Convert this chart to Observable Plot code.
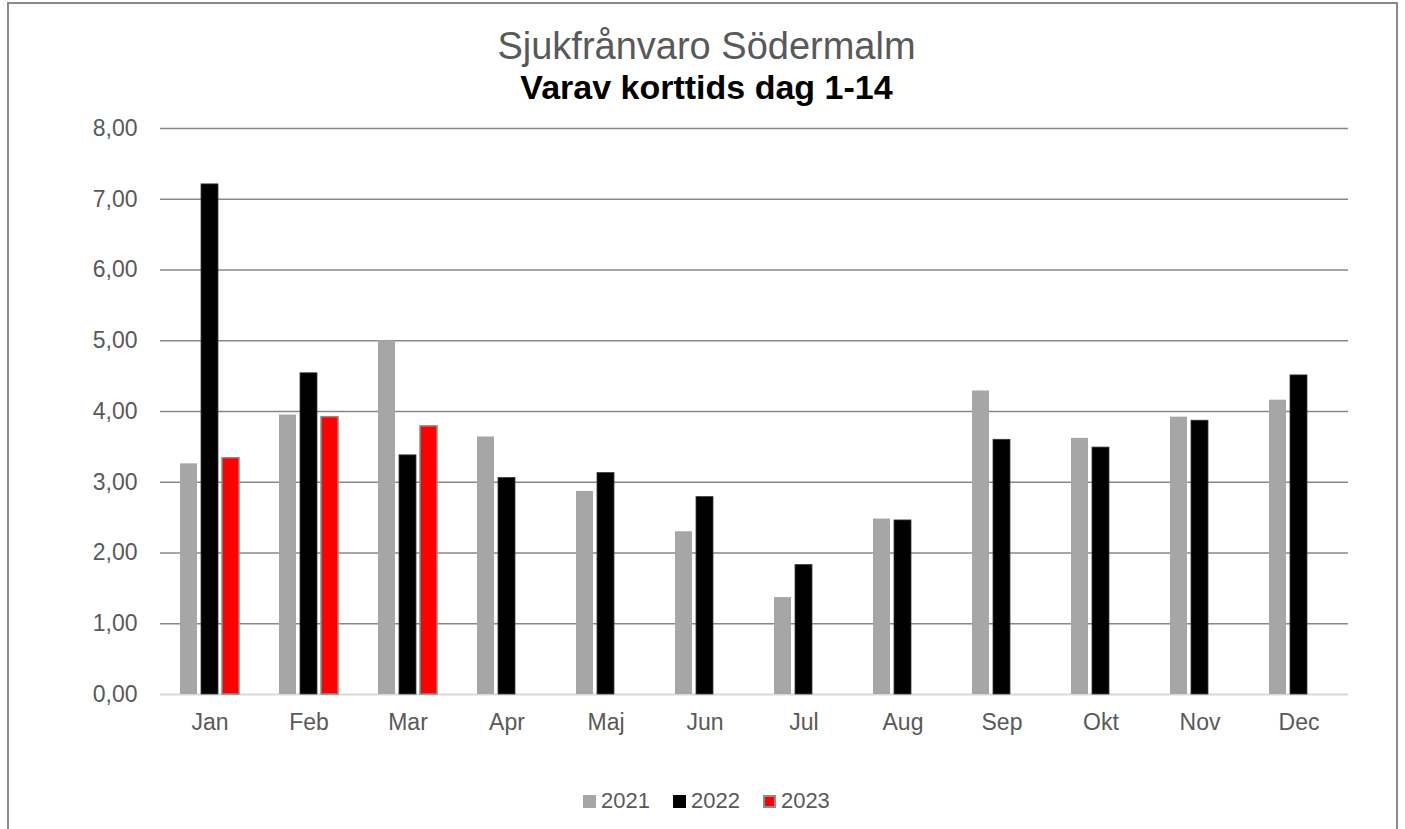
<!DOCTYPE html>
<html>
<head>
<meta charset="utf-8">
<script src="https://cdn.jsdelivr.net/npm/d3@7"></script>
<script src="https://cdn.jsdelivr.net/npm/@observablehq/plot@0.6"></script>
<style>
  html, body { margin: 0; padding: 0; background: #fff; overflow: hidden; }
  #wrap { position: relative; width: 1405px; height: 829px; font-family: "Liberation Sans", Arial, sans-serif; }
  #frame { position: absolute; left: 7px; top: 2px; width: 1391px; height: 900px; border: 2px solid #8a8a8a; box-sizing: border-box; }
  #chart { position: absolute; left: 0; top: 0; }
  .title { position: absolute; left: 8px; width: 1397px; text-align: center; white-space: nowrap; }
  #t1 { top: 23px; font-size: 38px; color: #595959; line-height: 46px; }
  #t2 { top: 67px; font-size: 34px; font-weight: bold; color: #000; line-height: 40px; }
  #legend { position: absolute; top: 789px; left: 583px; display: flex; gap: 23px; font-size: 22px; color: #595959; white-space: nowrap; line-height: 24px; }
  .item { display: flex; align-items: center; }
  .sw { display: inline-block; width: 13px; height: 13px; margin-right: 5px; box-sizing: border-box; }
</style>
</head>
<body>
<div id="wrap">
  <div id="chart"></div>
  <div id="frame"></div>
  <div class="title" id="t1">Sjukfrånvaro Södermalm</div>
  <div class="title" id="t2">Varav korttids dag 1-14</div>
  <div id="legend"></div>
</div>
<script>
const months = ["Jan","Feb","Mar","Apr","Maj","Jun","Jul","Aug","Sep","Okt","Nov","Dec"];
const years = ["2021","2022","2023"];
const v2021 = [3.26,3.95,5.00,3.64,2.87,2.30,1.37,2.48,4.29,3.62,3.92,4.16];
const v2022 = [7.21,4.54,3.38,3.06,3.13,2.79,1.83,2.46,3.60,3.49,3.87,4.51];
const v2023 = [3.34,3.92,3.79];
const yTicks = [0,1,2,3,4,5,6,7,8];
const colors = {"2021": "#a6a6a6", "2022": "#000000", "2023": "#ff0000"};
const strokes = {"2021": "none", "2022": "#3a3a3a", "2023": "#8c8c8c"};

const data = [];
const series = {"2021": v2021, "2022": v2022, "2023": v2023};
for (const y of years) {
  series[y].forEach((v, i) => {
    if (v != null) data.push({month: months[i], year: y, value: v});
  });
}

const fmt = d => d.toFixed(2).replace(".", ",");

const chart = Plot.plot({
  width: 1405,
  height: 829,
  marginTop: 128,
  marginBottom: 135,
  marginLeft: 154,
  marginRight: 52,
  style: {fontFamily: '"Liberation Sans", Arial, sans-serif', fontSize: "23px", color: "#595959", background: "transparent"},
  fx: {domain: months, padding: 0, label: null},
  x: {domain: years, paddingInner: 0.21, paddingOuter: 0.9, axis: null},
  y: {domain: [0, 8], label: null},
  marks: [
    Plot.ruleY(yTicks.filter(d => d > 0), {stroke: "#888888", strokeWidth: 1.6}),
    Plot.ruleY([0], {stroke: "#d9d9d9", strokeWidth: 2}),
    Plot.barY(data, {
      fx: "month", x: "year", y: "value",
      fill: d => colors[d.year],
      stroke: d => strokes[d.year],
      strokeWidth: d => d.year === "2023" ? 1.5 : 0.8,
      inset: 0
    }),
    Plot.axisY({ticks: yTicks, tickFormat: fmt, tickSize: 0, tickPadding: 23, label: null, fontSize: 23}),
    Plot.axisFx({anchor: "bottom", tickSize: 0, tickPadding: 19, label: null, fontSize: 23})
  ]
});
document.getElementById("chart").appendChild(chart);

const legend = document.getElementById("legend");
for (const y of years) {
  const item = document.createElement("span");
  item.className = "item";
  const sw = document.createElement("span");
  sw.className = "sw";
  sw.style.background = colors[y];
  if (y === "2023") sw.style.border = "2px solid #8c8c8c";
  item.appendChild(sw);
  item.appendChild(document.createTextNode(y));
  legend.appendChild(item);
}
</script>
</body>
</html>
